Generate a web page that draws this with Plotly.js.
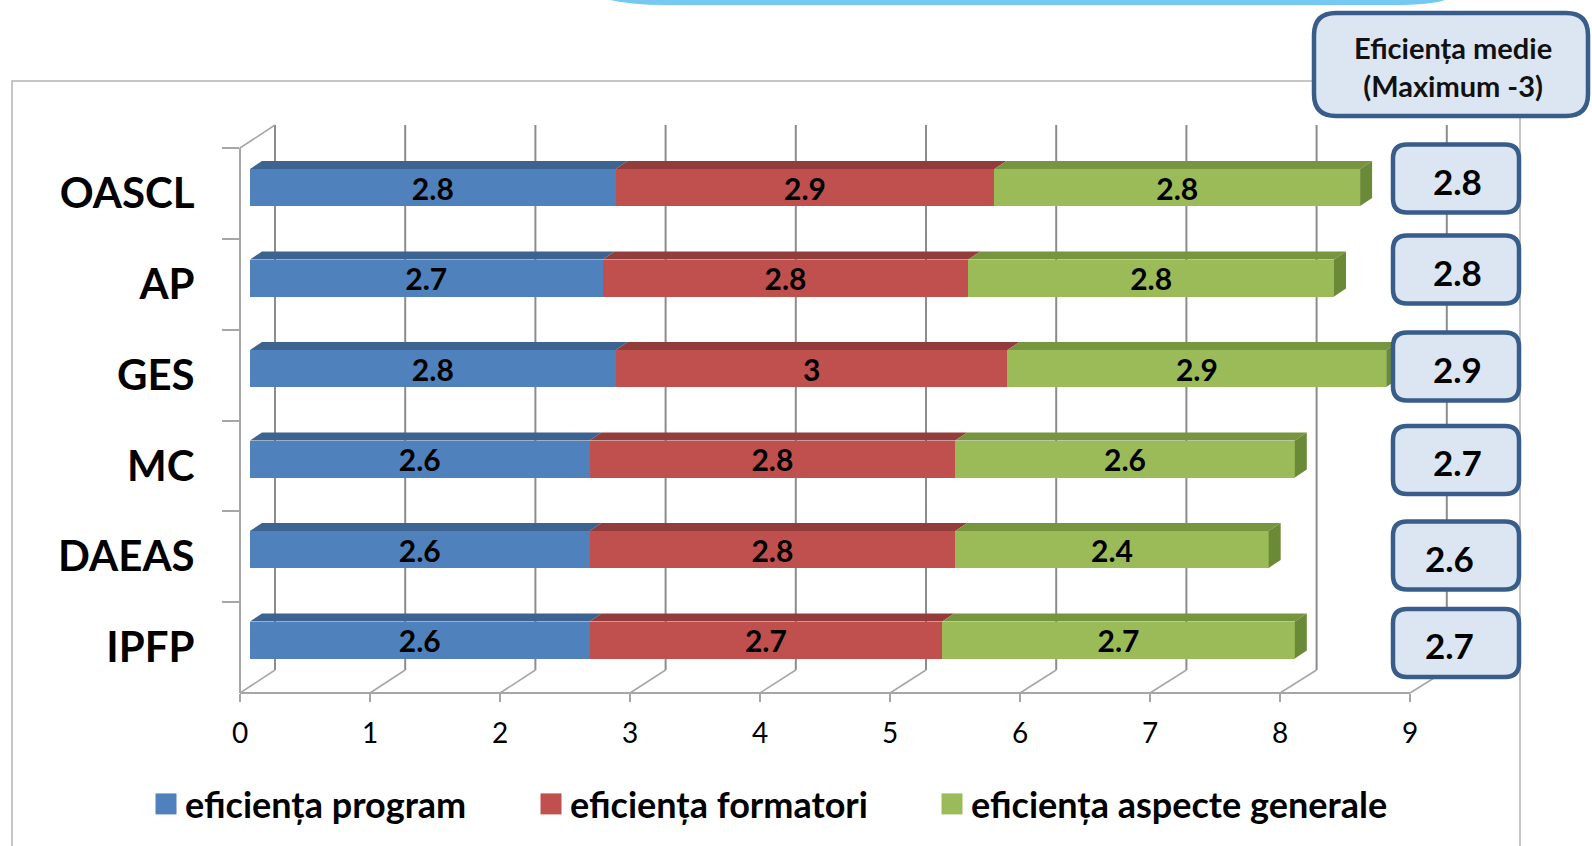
<!DOCTYPE html>
<html>
<head>
<meta charset="utf-8">
<script src="https://cdn.plot.ly/plotly-3.0.1.min.js"></script>
<style>
  html, body { margin: 0; padding: 0; background: #ffffff; }
  #chart { width: 1592px; height: 846px; }
</style>
</head>
<body>
<div id="chart"></div>
<script>
// ---------- DATA ----------
const categories = ['OASCL', 'AP', 'GES', 'MC', 'DAEAS', 'IPFP'];
const program    = [2.8, 2.7, 2.8, 2.6, 2.6, 2.6];
const formatori  = [2.9, 2.8, 3, 2.8, 2.8, 2.7];
const generale   = [2.8, 2.8, 2.9, 2.6, 2.4, 2.7];
const medie      = [2.8, 2.8, 2.9, 2.7, 2.6, 2.7];
const seriesNames = ['eficiența program', 'eficiența formatori', 'eficiența aspecte generale'];
const xTickVals  = [0, 1, 2, 3, 4, 5, 6, 7, 8, 9];
const boxTitle   = 'Eficiența medie<br>(Maximum -3)';

// ---------- STYLE / LAYOUT HELPERS ----------
const W = 1592, H = 846;
const px = v => v / W;
const py = v => 1 - v / H;
const FONT = 'Lato, "Open Sans", "Noto Sans", sans-serif';
const frontColors = ['#4f81bd', '#c0504d', '#9bbb59'];
const topColors   = ['#3d6391', '#923d3b', '#77953f'];
const sideColor   = '#6b8a38';
const axisGrey = '#a6a6a6';
const gridGrey = '#8c8c8c';

const unitPx = 130.6;            // bar axis pixels per unit
const catPx = 90.5;              // bar axis pixels per category
const depthX = 12 / unitPx;      // 3D offset in data units
const depthY = 8 / catPx;
const halfW = 37 / catPx / 2;

const idx = categories.map((c, i) => i);
const series = [program, formatori, generale];
const starts = [], ends = [];
let acc = categories.map(() => 0);
series.forEach((s, k) => {
  starts.push(acc.slice());
  acc = acc.map((a, i) => a + s[i]);
  ends.push(acc.slice());
});

const traces = [];
// dummy trace so the category (label) axis renders
traces.push({
  type: 'scatter', mode: 'markers', x: categories.map(() => 0), y: categories,
  xaxis: 'x', yaxis: 'y', marker: { opacity: 0 }, showlegend: false, hoverinfo: 'skip'
});
const legendIds = ['legend', 'legend2', 'legend3'];
series.forEach((s, k) => {
  traces.push({
    type: 'bar', orientation: 'h', name: seriesNames[k],
    x: s, y: idx, xaxis: 'x2', yaxis: 'y2', width: 2 * halfW,
    marker: { color: frontColors[k], line: { width: 0 } },
    texttemplate: '%{x}', textposition: 'inside', insidetextanchor: 'middle',
    textangle: 0, constraintext: 'none',
    insidetextfont: { family: FONT, size: 30, weight: 700, color: '#000' },
    legend: legendIds[k], hoverinfo: 'skip'
  });
});
// top faces of bars (3D look)
series.forEach((s, k) => {
  const xs = [], ys = [];
  idx.forEach(i => {
    const a = starts[k][i], b = ends[k][i], yt = i - halfW;
    xs.push(a, a + depthX, b + depthX, b, null);
    ys.push(yt, yt - depthY, yt - depthY, yt, null);
  });
  traces.push({
    type: 'scatter', mode: 'lines', x: xs, y: ys, xaxis: 'x2', yaxis: 'y2',
    fill: 'toself', fillcolor: topColors[k], line: { width: 0, color: topColors[k] },
    showlegend: false, hoverinfo: 'skip'
  });
});
// right end faces
{
  const xs = [], ys = [];
  idx.forEach(i => {
    const b = ends[2][i];
    xs.push(b, b + depthX, b + depthX, b, null);
    ys.push(i - halfW, i - halfW - depthY, i + halfW - depthY, i + halfW, null);
  });
  traces.push({
    type: 'scatter', mode: 'lines', x: xs, y: ys, xaxis: 'x2', yaxis: 'y2',
    fill: 'toself', fillcolor: sideColor, line: { width: 0, color: sideColor },
    showlegend: false, hoverinfo: 'skip'
  });
}

// ---------- SHAPES ----------
const shapes = [];
// outer chart border
shapes.push({ type: 'rect', xref: 'paper', yref: 'paper', x0: px(12), x1: px(1520), y0: py(870), y1: py(81),
  line: { color: '#b4b4b4', width: 1.5 }, layer: 'below' });
// top light-blue band
shapes.push({ type: 'path', xref: 'paper', yref: 'paper', layer: 'below',
  path: `M${px(610)},${py(-4)} L${px(1445)},${py(-4)} L${px(1445)},${py(0)} Q${px(1430)},${py(5)} ${px(1395)},${py(5)} L${px(665)},${py(5)} Q${px(632)},${py(5)} ${px(610)},${py(0)} Z`,
  fillcolor: '#74c8f2', line: { width: 0 } });
// back wall grid lines and floor diagonals
xTickVals.forEach(v => {
  const bx = 275 + 130.2 * v, fx = 240 + 130 * v;
  shapes.push({ type: 'line', xref: 'paper', yref: 'paper', layer: 'below',
    x0: px(bx), x1: px(bx), y0: py(125), y1: py(670), line: { color: gridGrey, width: 2 } });
  shapes.push({ type: 'line', xref: 'paper', yref: 'paper', layer: 'below',
    x0: px(fx), x1: px(bx), y0: py(693), y1: py(670), line: { color: axisGrey, width: 1.5 } });
});
// top-left wall diagonal
shapes.push({ type: 'line', xref: 'paper', yref: 'paper', layer: 'below',
  x0: px(240), x1: px(275), y0: py(148), y1: py(125), line: { color: axisGrey, width: 1.5 } });

function roundRect(x0, y0, x1, y1, r) {
  return `M${px(x0 + r)},${py(y0)} L${px(x1 - r)},${py(y0)} Q${px(x1)},${py(y0)} ${px(x1)},${py(y0 + r)} ` +
         `L${px(x1)},${py(y1 - r)} Q${px(x1)},${py(y1)} ${px(x1 - r)},${py(y1)} ` +
         `L${px(x0 + r)},${py(y1)} Q${px(x0)},${py(y1)} ${px(x0)},${py(y1 - r)} ` +
         `L${px(x0)},${py(y0 + r)} Q${px(x0)},${py(y0)} ${px(x0 + r)},${py(y0)} Z`;
}
const boxLine = '#385d8a', boxFill = '#dce6f2';
shapes.push({ type: 'path', xref: 'paper', yref: 'paper', layer: 'above',
  path: roundRect(1314, 13, 1588, 116, 22), fillcolor: boxFill, line: { color: boxLine, width: 4.5 } });

const boxCentersPx = [178.5, 269.5, 366.5, 460, 555.5, 643];
const boxTextX = [1457, 1457, 1457, 1457, 1449, 1449];
const annotations = [];
annotations.push({ xref: 'paper', yref: 'paper', x: px(1453), y: py(66), text: boxTitle, showarrow: false,
  font: { family: FONT, size: 29, weight: 700, color: '#111' }, align: 'center', xanchor: 'center', yanchor: 'middle' });
medie.forEach((m, i) => {
  const c = boxCentersPx[i];
  shapes.push({ type: 'path', xref: 'paper', yref: 'paper', layer: 'above',
    path: roundRect(1393, c - 34, 1519, c + 34, 14), fillcolor: boxFill, line: { color: boxLine, width: 4.5 } });
  annotations.push({ xref: 'paper', yref: 'paper', x: px(boxTextX[i]), y: py(c + 2), text: String(m), showarrow: false,
    font: { family: FONT, size: 35, weight: 700, color: '#000' }, xanchor: 'center', yanchor: 'middle' });
});

const legendBase = { orientation: 'h', xanchor: 'left', yanchor: 'middle', y: py(804),
  bgcolor: 'rgba(0,0,0,0)', borderwidth: 0,
  font: { family: FONT, size: 36, weight: 700, color: '#000' } };

const layout = {
  width: W, height: H,
  margin: { l: 0, r: 0, t: 0, b: 0, pad: 0 },
  paper_bgcolor: '#ffffff', plot_bgcolor: 'rgba(0,0,0,0)',
  barmode: 'stack', bargap: 0,
  showlegend: true,
  legend:  Object.assign({}, legendBase, { x: px(145) }),
  legend2: Object.assign({}, legendBase, { x: px(530) }),
  legend3: Object.assign({}, legendBase, { x: px(931) }),
  xaxis: {
    domain: [px(240), px(1410)], range: [0, 9], anchor: 'free', position: py(693),
    showline: true, linecolor: axisGrey, linewidth: 2, ticks: 'outside', ticklen: 8, tickwidth: 2,
    tickcolor: axisGrey, tickvals: xTickVals, showgrid: false, zeroline: false,
    tickfont: { family: FONT, size: 28, color: '#000' }, ticklabelstandoff: 7, fixedrange: true
  },
  yaxis: {
    domain: [py(693), py(148)], type: 'category', categoryarray: categories, range: [5.5, -0.5],
    anchor: 'free', position: px(240),
    showline: true, linecolor: axisGrey, linewidth: 2, ticks: 'outside', tickson: 'boundaries',
    ticklen: 17, tickwidth: 2, tickcolor: axisGrey, showgrid: false, zeroline: false,
    tickfont: { family: FONT, size: 42, weight: 700, color: '#000' }, ticklabelstandoff: 36, fixedrange: true
  },
  xaxis2: { domain: [px(250), px(250 + 9 * unitPx)], range: [0, 9], anchor: 'y2', visible: false, fixedrange: true },
  yaxis2: { domain: [py(640 + catPx / 2), py(187.5 - catPx / 2)], range: [5.5, -0.5], anchor: 'x2', visible: false, fixedrange: true },
  shapes: shapes,
  annotations: annotations
};

Plotly.newPlot('chart', traces, layout, { displayModeBar: false, staticPlot: true }).then(() => {
  // enlarge legend colour squares to match the reference
  document.querySelectorAll('.legendpoints path').forEach(p => {
    p.setAttribute('d', 'M11.5,10.5H-9.5V-10.5H11.5Z');
  });
});
</script>
</body>
</html>
